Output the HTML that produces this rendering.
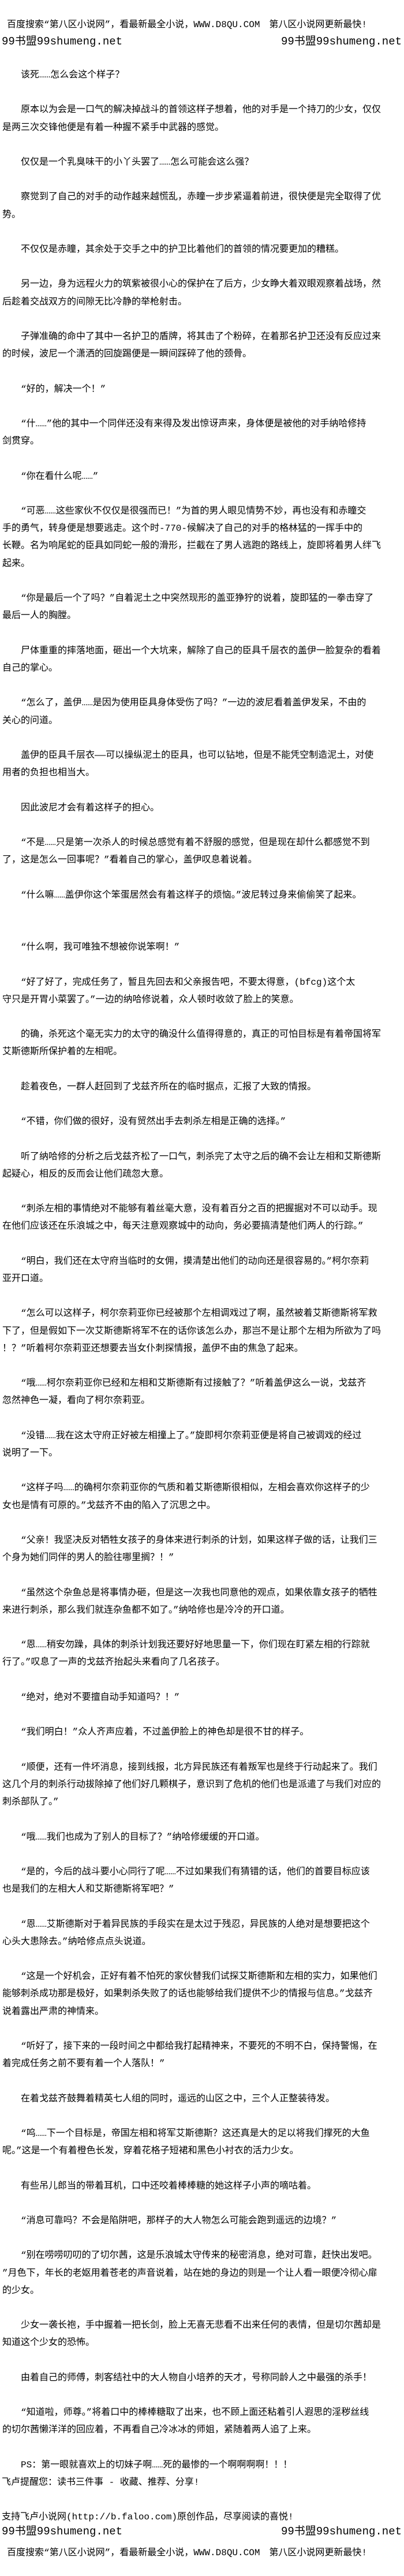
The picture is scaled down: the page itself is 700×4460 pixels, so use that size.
<!DOCTYPE html>
<html lang="zh-CN">
<head>
<meta charset="utf-8">
<style>
html,body{margin:0;padding:0;background:#fff;}
body{width:700px;height:4460px;position:relative;overflow:hidden;color:#000;
font-family:"Liberation Mono","Noto Sans CJK SC",monospace;}
.a{position:absolute;white-space:nowrap;}
.h{font-size:16px;line-height:20px;}
.b{font-size:19px;line-height:26px;}
#t{position:absolute;left:4px;top:115px;width:696px;font-size:16px;line-height:30.2px;white-space:pre;}
</style>
</head>
<body>
<div class="a h" style="left:12px;top:33px;">百度搜索“第八区小说网”，看最新最全小说，WWW.D8QU.COM　第八区小说网更新最快!</div>
<div class="a b" style="left:3px;top:59px;">99书盟99shumeng.net</div>
<div class="a b" style="right:4px;top:59px;">99书盟99shumeng.net</div>

<div id="t">　　该死……怎么会这个样子？

　　原本以为会是一口气的解决掉战斗的首领这样子想着，他的对手是一个持刀的少女，仅仅
是两三次交锋他便是有着一种握不紧手中武器的感觉。

　　仅仅是一个乳臭味干的小丫头罢了……怎么可能会这么强？

　　察觉到了自己的对手的动作越来越慌乱，赤瞳一步步紧逼着前进，很快便是完全取得了优
势。

　　不仅仅是赤瞳，其余处于交手之中的护卫比着他们的首领的情况要更加的糟糕。

　　另一边，身为远程火力的筑紫被很小心的保护在了后方，少女睁大着双眼观察着战场，然
后趁着交战双方的间隙无比冷静的举枪射击。

　　子弹准确的命中了其中一名护卫的盾牌，将其击了个粉碎，在着那名护卫还没有反应过来
的时候，波尼一个潇洒的回旋踢便是一瞬间踩碎了他的颈骨。

　　“好的，解决一个！”

　　“什……”他的其中一个同伴还没有来得及发出惊讶声来，身体便是被他的对手纳哈修持
剑贯穿。

　　“你在看什么呢……”

　　“可恶……这些家伙不仅仅是很强而已！”为首的男人眼见情势不妙，再也没有和赤瞳交
手的勇气，转身便是想要逃走。这个时-770-候解决了自己的对手的格林猛的一挥手中的
长鞭。名为响尾蛇的臣具如同蛇一般的滑形，拦截在了男人逃跑的路线上，旋即将着男人绊飞
起来。

　　“你是最后一个了吗？”自着泥土之中突然现形的盖亚狰狞的说着，旋即猛的一拳击穿了
最后一人的胸膛。

　　尸体重重的摔落地面，砸出一个大坑来，解除了自己的臣具千层衣的盖伊一脸复杂的看着
自己的掌心。

　　“怎么了，盖伊……是因为使用臣具身体受伤了吗？”一边的波尼看着盖伊发呆，不由的
关心的问道。

　　盖伊的臣具千层衣——可以操纵泥土的臣具，也可以钻地，但是不能凭空制造泥土，对使
用者的负担也相当大。

　　因此波尼才会有着这样子的担心。

　　“不是……只是第一次杀人的时候总感觉有着不舒服的感觉，但是现在却什么都感觉不到
了，这是怎么一回事呢？”看着自己的掌心，盖伊叹息着说着。

　　“什么嘛……盖伊你这个笨蛋居然会有着这样子的烦恼。”波尼转过身来偷偷笑了起来。


　　“什么啊，我可唯独不想被你说笨啊！”

　　“好了好了，完成任务了，暂且先回去和父亲报告吧，不要太得意，(bfcg)这个太
守只是开胃小菜罢了。”一边的纳哈修说着，众人顿时收敛了脸上的笑意。

　　的确，杀死这个毫无实力的太守的确没什么值得得意的，真正的可怕目标是有着帝国将军
艾斯德斯所保护着的左相呢。

　　趁着夜色，一群人赶回到了戈兹齐所在的临时据点，汇报了大致的情报。

　　“不错，你们做的很好，没有贸然出手去刺杀左相是正确的选择。”

　　听了纳哈修的分析之后戈兹齐松了一口气，刺杀完了太守之后的确不会让左相和艾斯德斯
起疑心，相反的反而会让他们疏忽大意。

　　“刺杀左相的事情绝对不能够有着丝毫大意，没有着百分之百的把握据对不可以动手。现
在他们应该还在乐浪城之中，每天注意观察城中的动向，务必要搞清楚他们两人的行踪。”

　　“明白，我们还在太守府当临时的女佣，摸清楚出他们的动向还是很容易的。”柯尔奈莉
亚开口道。

　　“怎么可以这样子，柯尔奈莉亚你已经被那个左相调戏过了啊，虽然被着艾斯德斯将军救
下了，但是假如下一次艾斯德斯将军不在的话你该怎么办，那岂不是让那个左相为所欲为了吗
！？”听着柯尔奈莉亚还想要去当女仆刺探情报，盖伊不由的焦急了起来。

　　“哦……柯尔奈莉亚你已经和左相和艾斯德斯有过接触了？”听着盖伊这么一说，戈兹齐
忽然神色一凝，看向了柯尔奈莉亚。

　　“没错……我在这太守府正好被左相撞上了。”旋即柯尔奈莉亚便是将自己被调戏的经过
说明了一下。

　　“这样子吗……的确柯尔奈莉亚你的气质和着艾斯德斯很相似，左相会喜欢你这样子的少
女也是情有可原的。”戈兹齐不由的陷入了沉思之中。

　　“父亲！我坚决反对牺牲女孩子的身体来进行刺杀的计划，如果这样子做的话，让我们三
个身为她们同伴的男人的脸往哪里搁？！”

　　“虽然这个杂鱼总是将事情办砸，但是这一次我也同意他的观点，如果依靠女孩子的牺牲
来进行刺杀，那么我们就连杂鱼都不如了。”纳哈修也是冷冷的开口道。

　　“恩……稍安勿躁，具体的刺杀计划我还要好好地思量一下，你们现在盯紧左相的行踪就
行了。”叹息了一声的戈兹齐抬起头来看向了几名孩子。

　　“绝对，绝对不要擅自动手知道吗？！”

　　“我们明白！”众人齐声应着，不过盖伊脸上的神色却是很不甘的样子。

　　“顺便，还有一件坏消息，接到线报，北方异民族还有着叛军也是终于行动起来了。我们
这几个月的刺杀行动拔除掉了他们好几颗棋子，意识到了危机的他们也是派遣了与我们对应的
刺杀部队了。”

　　“哦……我们也成为了别人的目标了？”纳哈修缓缓的开口道。

　　“是的，今后的战斗要小心同行了呢……不过如果我们有猜错的话，他们的首要目标应该
也是我们的左相大人和艾斯德斯将军吧？”

　　“恩……艾斯德斯对于着异民族的手段实在是太过于残忍，异民族的人绝对是想要把这个
心头大患除去。”纳哈修点点头说道。

　　“这是一个好机会，正好有着不怕死的家伙替我们试探艾斯德斯和左相的实力，如果他们
能够刺杀成功那是极好，如果刺杀失败了的话也能够给我们提供不少的情报与信息。”戈兹齐
说着露出严肃的神情来。

　　“听好了，接下来的一段时间之中都给我打起精神来，不要死的不明不白，保持警惕，在
着完成任务之前不要有着一个人落队！”

　　在着戈兹齐鼓舞着精英七人组的同时，遥远的山区之中，三个人正整装待发。

　　“呜……下一个目标是，帝国左相和将军艾斯德斯？这还真是大的足以将我们撑死的大鱼
呢。”这是一个有着橙色长发，穿着花格子短裙和黑色小衬衣的活力少女。

　　有些吊儿郎当的带着耳机，口中还咬着棒棒糖的她这样子小声的嘀咕着。

　　“消息可靠吗？不会是陷阱吧，那样子的大人物怎么可能会跑到遥远的边境？”

　　“别在唠唠叨叨的了切尔茜，这是乐浪城太守传来的秘密消息，绝对可靠，赶快出发吧。
”月色下，年长的老妪用着苍老的声音说着，站在她的身边的则是一个让人看一眼便冷彻心扉
的少女。

　　少女一袭长袍，手中握着一把长剑，脸上无喜无悲看不出来任何的表情，但是切尔茜却是
知道这个少女的恐怖。

　　由着自己的师傅，刺客结社中的大人物自小培养的天才，号称同龄人之中最强的杀手！

　　“知道啦，师尊。”将着口中的棒棒糖取了出来，也不顾上面还粘着引人遐思的淫秽丝线
的切尔茜懒洋洋的回应着，不再看自己冷冰冰的师姐，紧随着两人追了上来。

　　PS：第一眼就喜欢上的切妹子啊……死的最惨的一个啊啊啊啊！！！</div>

<div class="a h" style="left:3px;top:4288px;">飞卢提醒您：读书三件事 - 收藏、推荐、分享!</div>
<div class="a h" style="left:3px;top:4348px;">支持飞卢小说网(http://b.faloo.com)原创作品，尽享阅读的喜悦!</div>
<div class="a b" style="left:3px;top:4370px;">99书盟99shumeng.net</div>
<div class="a b" style="right:4px;top:4370px;">99书盟99shumeng.net</div>
<div class="a h" style="left:12px;top:4410px;">百度搜索“第八区小说网”，看最新最全小说，WWW.D8QU.COM　第八区小说网更新最快!</div>
</body>
</html>
